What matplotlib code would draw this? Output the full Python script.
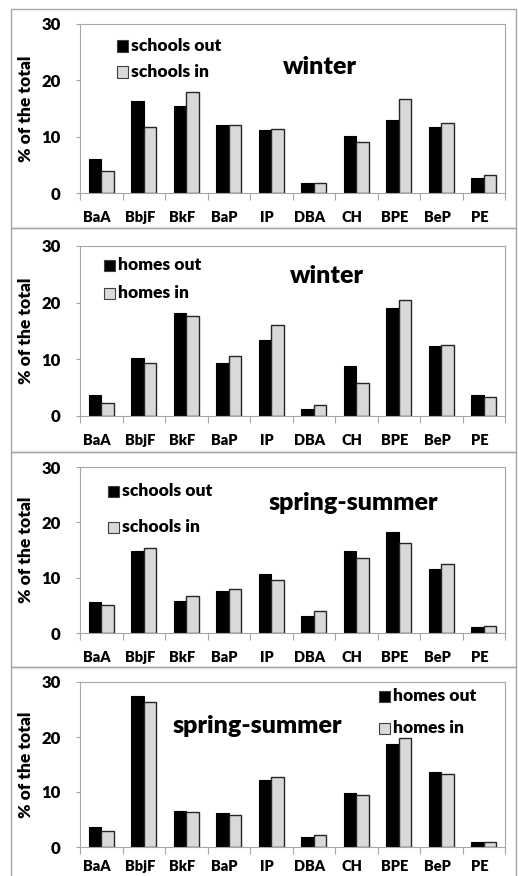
import numpy as np
import matplotlib
matplotlib.use("Agg")
import matplotlib.pyplot as plt
from matplotlib.patches import Rectangle
from matplotlib.transforms import ScaledTranslation

plt.rcParams['font.family'] = ['Lato', 'DejaVu Sans']
plt.rcParams['font.weight'] = 'bold'

categorias = ["BaA", "BbjF", "BkF", "BaP", "IP", "DBA", "CH", "BPE", "BeP", "PE"]

escolas_inverno_out = [6.0, 16.4, 15.5, 12.1, 11.2, 1.7, 10.2, 13.0, 11.8, 2.7]
escolas_inverno_in = [3.9, 11.7, 17.9, 12.1, 11.4, 1.85, 9.0, 16.7, 12.4, 3.2]

casas_inverno_out = [3.7, 10.3, 18.2, 9.4, 13.5, 1.2, 8.9, 19.1, 12.3, 3.7]
casas_inverno_in = [2.3, 9.4, 17.6, 10.6, 16.0, 2.0, 5.9, 20.4, 12.5, 3.4]

escolas_verao_out = [5.6, 14.9, 5.7, 7.6, 10.6, 3.1, 14.9, 18.2, 11.5, 1.1]
escolas_verao_in = [5.0, 15.4, 6.7, 7.9, 9.6, 4.0, 13.5, 16.2, 12.4, 1.3]

casas_verao_out = [3.6, 27.4, 6.5, 6.1, 12.1, 1.9, 9.9, 18.7, 13.6, 0.85]
casas_verao_in = [3.0, 26.3, 6.4, 5.9, 12.8, 2.2, 9.5, 19.9, 13.3, 0.9]

W, H = 518, 876
fig = plt.figure(figsize=(W / 100, H / 100), dpi=100)


def px(x, y):
    # pixel (a partir do topo) -> fração da figura
    return x / W, 1 - y / H


paineis = [
    dict(out=escolas_inverno_out, inn=escolas_inverno_in,
         rotulos=["schools out", "schools in"], titulo="winter",
         eixo=(24, 193), moldura=(9, 228), leg=(117, 46, 72), tit=(320, 67), pad=13),
    dict(out=casas_inverno_out, inn=casas_inverno_in,
         rotulos=["homes out", "homes in"], titulo="winter",
         eixo=(246, 416), moldura=(228, 452), leg=(104, 265, 293), tit=(327, 276), pad=13),
    dict(out=escolas_verao_out, inn=escolas_verao_in,
         rotulos=["schools out", "schools in"], titulo="spring-summer",
         eixo=(467, 633), moldura=(452, 667), leg=(108, 491, 527), tit=(353, 503), pad=13),
    dict(out=casas_verao_out, inn=casas_verao_in,
         rotulos=["homes out", "homes in"], titulo="spring-summer",
         eixo=(682, 847), moldura=(667, 890), leg=(379, 696, 728), tit=(257, 726), pad=9.5),
]

cinza = '#a6a6a6'
x = np.arange(len(categorias))
w = 0.29

for p in paineis:
    topo_m, base_m = p["moldura"]
    x0, y0 = px(11, base_m)
    x1, y1 = px(516, topo_m)
    fig.add_artist(Rectangle((x0, y0), x1 - x0, y1 - y0, transform=fig.transFigure,
                             fill=False, edgecolor=cinza, lw=1))

    topo, base = p["eixo"]
    l, b = px(80, base)
    r, t = px(505, topo)
    ax = fig.add_axes([l, b, r - l, t - b])

    ax.bar(x - w / 2, p["out"], w, color='black', edgecolor='black', lw=0.8)
    ax.bar(x + w / 2, p["inn"], w, color='#d9d9d9', edgecolor='#262626', lw=1.0)

    ax.set_xlim(-0.5, len(categorias) - 0.5)
    ax.set_ylim(0, 30)
    ax.set_yticks([0, 10, 20, 30])
    ax.set_xticks(np.arange(len(categorias) + 1) - 0.5)
    ax.set_xticklabels([])
    ax.set_xticks(x, minor=True)
    ax.set_xticklabels(categorias, minor=True, fontsize=10.5, fontweight='heavy')
    ax.tick_params(axis='x', which='minor', length=0, pad=p["pad"])
    ax.tick_params(axis='x', which='major', length=5, color=cinza, width=0.8)
    ax.tick_params(axis='y', length=3, color=cinza, width=0.8, labelsize=12, pad=11)
    for lab in ax.get_xticklabels(minor=True):
        lab.set_transform(lab.get_transform() + ScaledTranslation(-4 / 100, 0, fig.dpi_scale_trans))
    for lab in ax.get_yticklabels():
        lab.set_fontweight('heavy')
    for s in ax.spines.values():
        s.set_color(cinza)
        s.set_linewidth(0.8)

    ax.set_ylabel("% of the total", fontsize=12.5, fontweight='heavy')
    ax.yaxis.set_label_coords((34 - 80) / 425, 0.5)

    # legenda
    lx, r1, r2 = p["leg"]
    for yy, lab, cor in zip([r1, r2], p["rotulos"], ['black', '#d9d9d9']):
        qx, qy = px(lx, yy + 5.5)
        fig.add_artist(Rectangle((qx, qy), 11 / W, 11 / H, transform=fig.transFigure,
                                 facecolor=cor, edgecolor='#404040', lw=0.8))
        tx, ty = px(lx + 14, yy)
        fig.text(tx, ty, lab, fontsize=12.5, fontweight='heavy', va='center', ha='left')

    tx, ty = px(*p["tit"])
    fig.text(tx, ty, p["titulo"], fontsize=18, fontweight='heavy', ha='center', va='center')

fig.savefig("out.png", dpi=100)
